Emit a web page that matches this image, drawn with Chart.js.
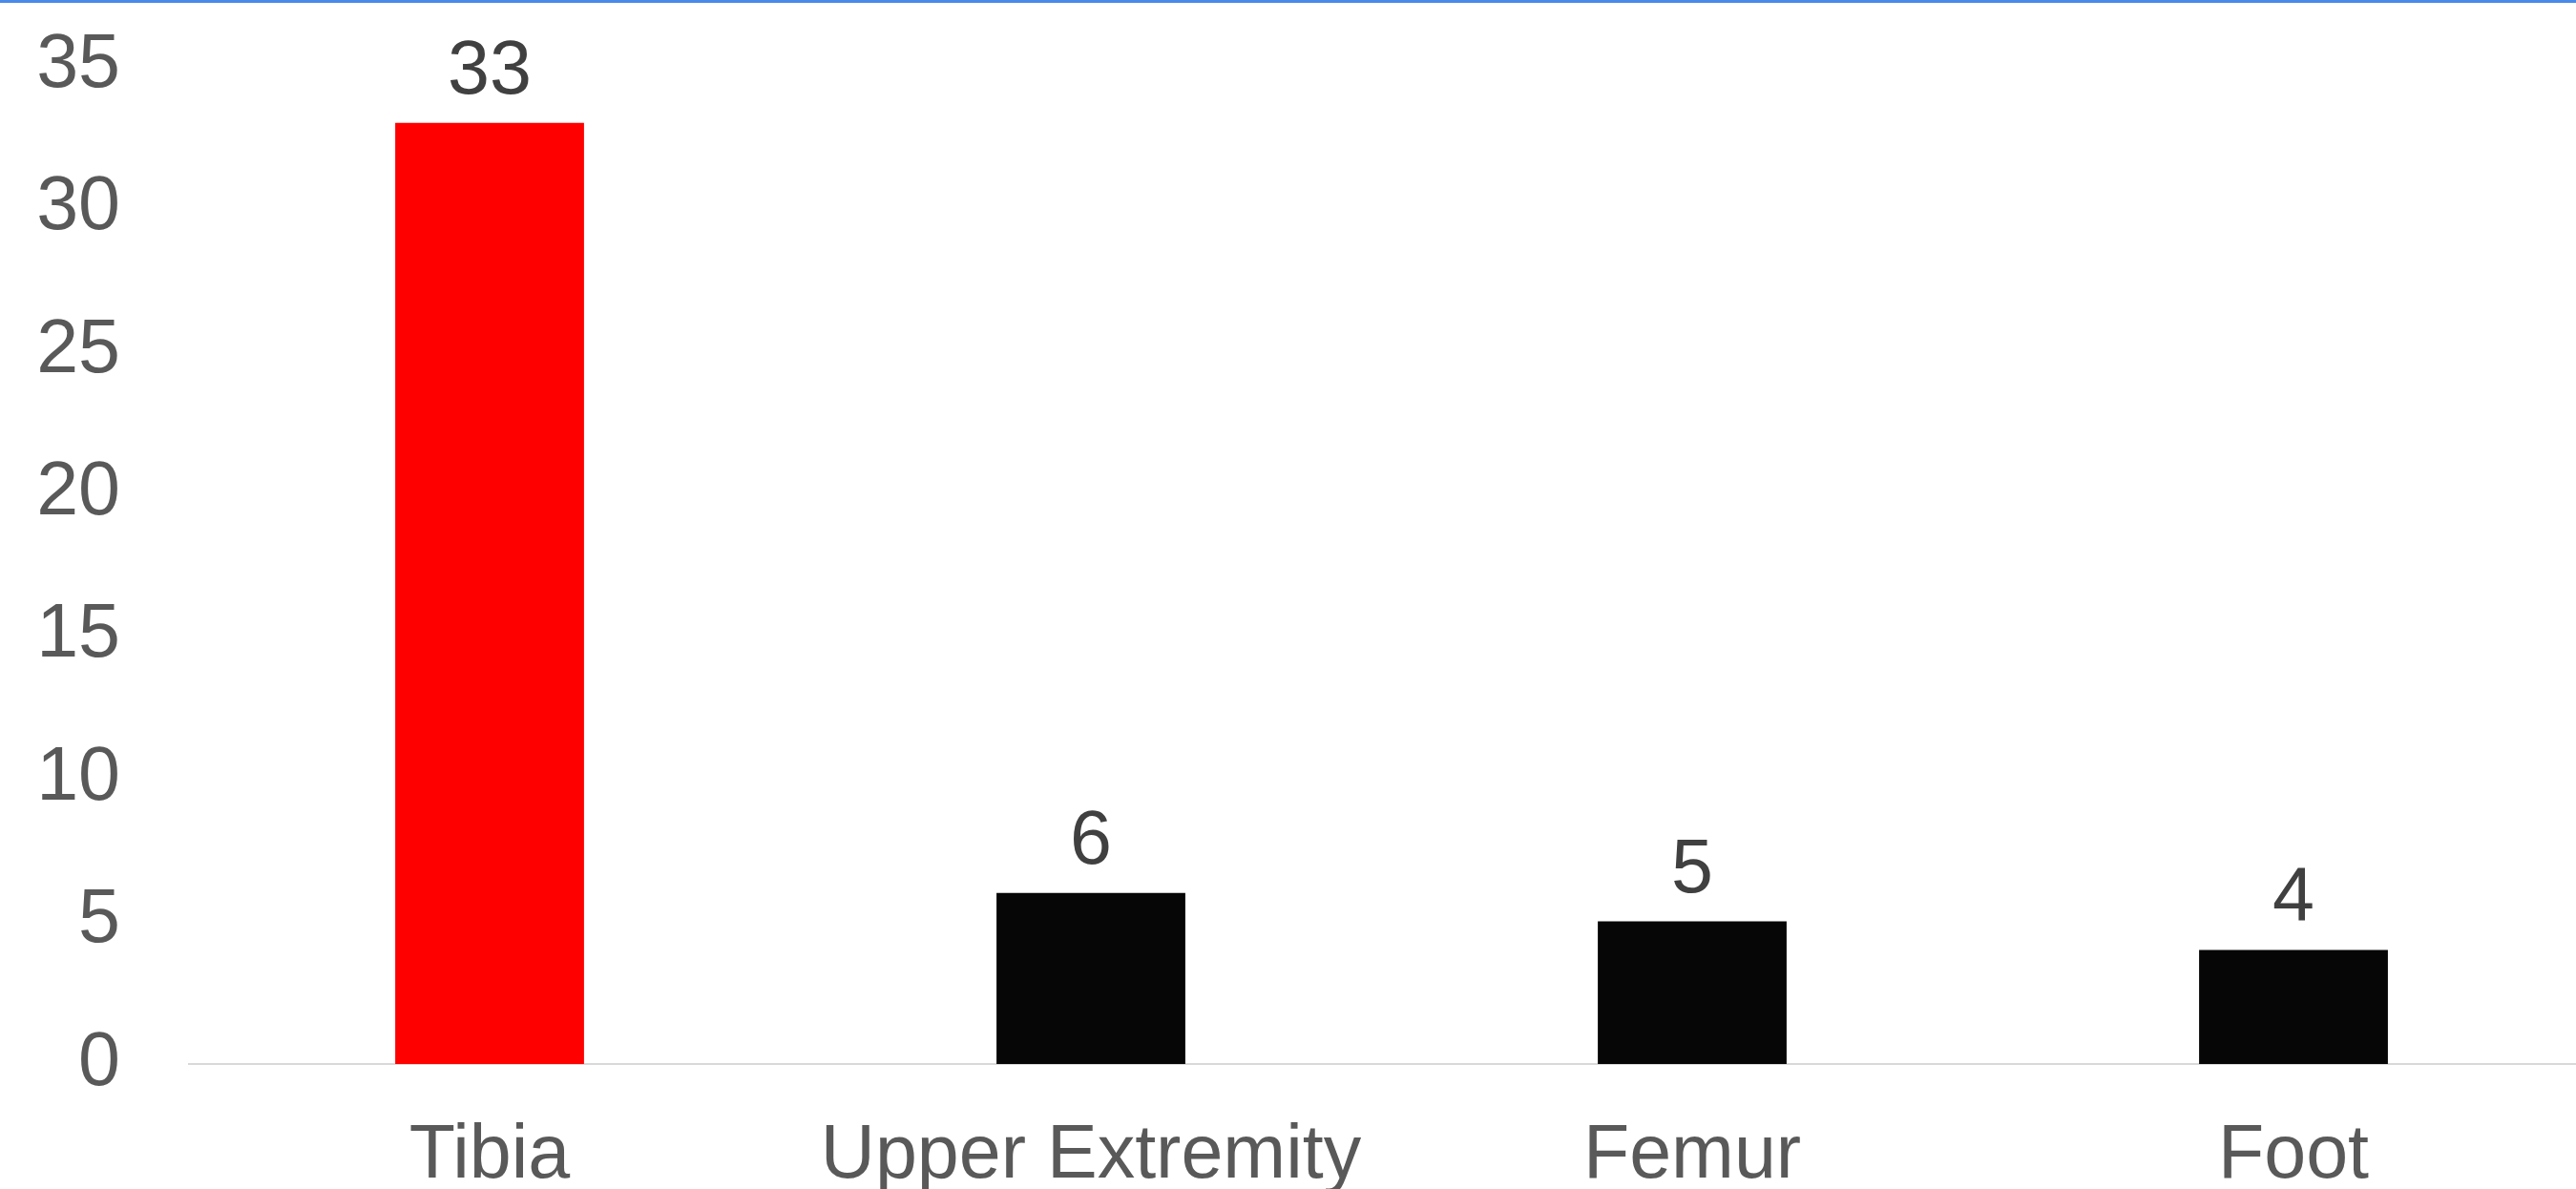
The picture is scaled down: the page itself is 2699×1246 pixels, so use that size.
<!DOCTYPE html>
<html>
<head>
<meta charset="utf-8">
<script src="https://cdn.jsdelivr.net/npm/chart.js@4/dist/chart.umd.min.js"></script>
<style>
  html, body { margin: 0; padding: 0; background: #ffffff; overflow: hidden; }
  #wrap { position: relative; width: 2720px; height: 1300px; }
  #topbar { position: absolute; left: 0; top: 0; width: 2699px; height: 3px; background: #4a89e8; z-index: 2; }
  canvas { display: block; }
</style>
</head>
<body>
<div id="wrap">
  <div id="topbar"></div>
  <canvas id="chart" width="2720" height="1300"></canvas>
</div>
<script>
// Fracture sites and case counts
const categories = ['Tibia', 'Upper Extremity', 'Femur', 'Foot'];
const counts = [33, 6, 5, 4];
const barColors = ['#ff0000', '#060606', '#060606', '#060606'];
const yTicks = [0, 5, 10, 15, 20, 25, 30, 35];

const FONT = "'Liberation Sans', Arial, sans-serif";

// Writes each bar's count just above its top edge
const valueLabels = {
  id: 'valueLabels',
  afterDatasetsDraw(chart) {
    const ctx = chart.ctx;
    const meta = chart.getDatasetMeta(0);
    ctx.save();
    ctx.font = '79px ' + FONT;
    ctx.fillStyle = '#404040';
    ctx.textAlign = 'center';
    ctx.textBaseline = 'alphabetic';
    meta.data.forEach((bar, i) => {
      ctx.fillText(String(counts[i]), bar.x, bar.y - 31);
    });
    ctx.restore();
  }
};

new Chart(document.getElementById('chart'), {
  type: 'bar',
  data: {
    labels: categories,
    datasets: [{
      data: counts,
      backgroundColor: barColors,
      borderWidth: 0,
      barPercentage: 0.314,
      categoryPercentage: 1.0
    }]
  },
  options: {
    responsive: false,
    animation: false,
    events: [],
    layout: { padding: { top: 69, left: 0, right: 2, bottom: 0 } },
    plugins: {
      legend: { display: false },
      tooltip: { enabled: false },
      title: { display: false }
    },
    scales: {
      x: {
        grid: { display: false, drawTicks: false },
        border: { display: true, color: '#d9d9d9', width: 2 },
        ticks: {
          color: '#595959',
          font: { family: FONT, size: 79 },
          padding: 50,
          maxRotation: 0,
          autoSkip: false
        },
        afterFit(scale) {
          scale.height = 1300 - 1115;
          scale.paddingLeft = 0;
          scale.paddingRight = 0;
        }
      },
      y: {
        min: 0,
        max: 35,
        grid: { display: false, drawTicks: false },
        border: { display: false },
        afterBuildTicks(scale) { scale.ticks = yTicks.map(v => ({ value: v })); },
        ticks: {
          color: '#595959',
          font: { family: FONT, size: 79 },
          padding: 72
        },
        afterFit(scale) {
          scale.width = 198;
          scale.paddingTop = 0;
          scale.paddingBottom = 0;
        }
      }
    }
  },
  plugins: [valueLabels]
});
</script>
</body>
</html>
